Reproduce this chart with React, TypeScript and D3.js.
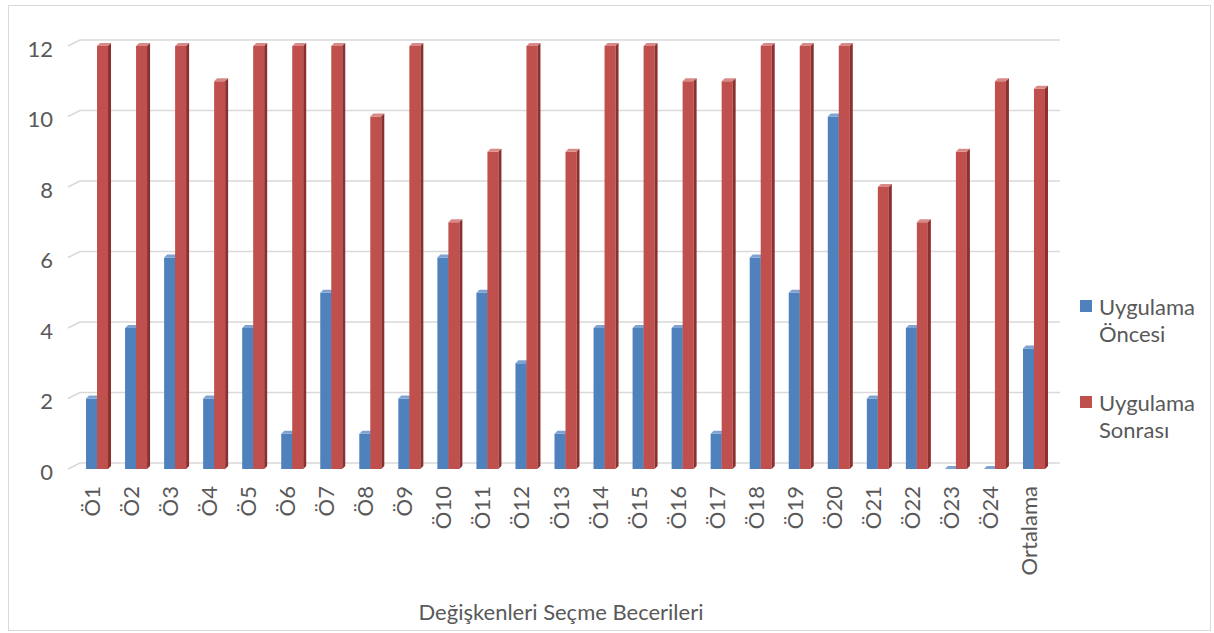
import React from "react";
import * as d3 from "d3";

const categories = ["Ö1","Ö2","Ö3","Ö4","Ö5","Ö6","Ö7","Ö8","Ö9","Ö10","Ö11","Ö12","Ö13","Ö14","Ö15","Ö16","Ö17","Ö18","Ö19","Ö20","Ö21","Ö22","Ö23","Ö24","Ortalama"];
const oncesi = [2,4,6,2,4,1,5,1,2,6,5,3,1,4,4,4,1,6,5,10,2,4,0,0,3.42];
const sonrasi = [12,12,12,11,12,12,12,10,12,7,9,12,9,12,12,11,11,12,12,12,8,7,9,11,10.79];
const yTicks = [0,2,4,6,8,10,12];
const seriesNames = [["Uygulama", "Öncesi"], ["Uygulama", "Sonrası"]];
const axisTitle = "Değişkenleri Seçme Becerileri";

const W = 1214, H = 633;
const FONT = "Lato, 'Open Sans', sans-serif";
const TXT = "#595959";
const FS = 22;
const colors = [
  { front: "#4f81bd", top: "#7ea3d3", side: "#36649b" },
  { front: "#c0504d", top: "#d98a88", side: "#8a302e" },
];

export default function App() {
  const x = d3.scaleBand<string>().domain(categories).range([72, 1048]);
  const y = d3.scaleLinear().domain([0, 12]).range([469, 46]);
  const DX = 12, DY = -6; // wall depth
  const bw = 11, dd = 3; // bar width, bar depth

  const bars: JSX.Element[] = [];
  categories.forEach((c, i) => {
    const cx = (x(c) as number) + x.bandwidth() / 2;
    [oncesi[i], sonrasi[i]].forEach((v, s) => {
      const x0 = cx - 5.5 + s * bw;
      const x1 = x0 + bw;
      const yt = y(v);
      const yb = y(0);
      const col = colors[s];
      bars.push(
        <g key={`${i}-${s}`}>
          <rect x={x0} y={yt} width={bw} height={yb - yt} fill={col.front} />
          <polygon points={`${x0},${yt} ${x1},${yt} ${x1 + dd},${yt - dd} ${x0 + dd},${yt - dd}`} fill={col.top} />
          <polygon points={`${x1},${yt} ${x1 + dd},${yt - dd} ${x1 + dd},${yb - dd} ${x1},${yb}`} fill={col.side} />
        </g>
      );
    });
  });

  return (
    <svg width={W} height={H} style={{ position: "absolute", left: 0, top: 0 }}>
      <rect x={8.5} y={5.5} width={1202} height={625} fill="#fff" stroke="#d9d9d9" strokeWidth={1} />
      {yTicks.map((t) => (
        <g key={t}>
          <line x1={68} y1={y(t)} x2={68 + DX} y2={y(t) + DY} stroke="#d9d9d9" strokeWidth={1.5} />
          <line x1={68 + DX} y1={y(t) + DY} x2={1060} y2={y(t) + DY} stroke="#d9d9d9" strokeWidth={1.5} />
          <text x={53} y={y(t) + 2} textAnchor="end" dominantBaseline="central" fontFamily={FONT} fontSize={FS} fill={TXT}>{t}</text>
        </g>
      ))}
      {bars}
      {categories.map((c) => {
        const cx = (x(c) as number) + x.bandwidth() / 2;
        return (
          <text key={c} transform={`translate(${cx},486) rotate(-90)`} textAnchor="end" dominantBaseline="central" fontFamily={FONT} fontSize={FS} fill={TXT}>{c}</text>
        );
      })}
      <text x={561} y={620} textAnchor="middle" fontFamily={FONT} fontSize={FS} fill={TXT}>{axisTitle}</text>
      {seriesNames.map((lines, s) => {
        const top = s === 0 ? 300 : 396;
        return (
          <g key={s}>
            <rect x={1080} y={top} width={12} height={12} fill={colors[s].front} />
            <text x={1099} y={top + 15} fontFamily={FONT} fontSize={FS} fill={TXT}>{lines[0]}</text>
            <text x={1099} y={top + 42} fontFamily={FONT} fontSize={FS} fill={TXT}>{lines[1]}</text>
          </g>
        );
      })}
    </svg>
  );
}
